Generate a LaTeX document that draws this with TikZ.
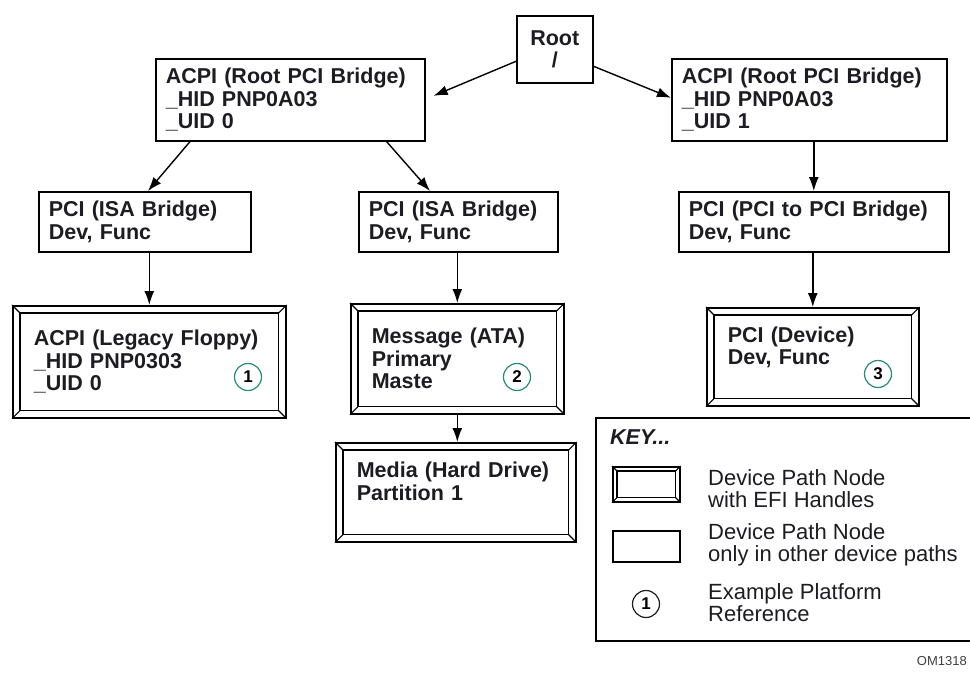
\documentclass[tikz,border=0pt]{standalone}
\usepackage{fontspec}
\setmainfont{Liberation Sans}
\usetikzlibrary{arrows.meta}
\definecolor{RefGreen}{RGB}{38,140,110}
\definecolor{InkBlack}{RGB}{28,28,34}
\newcommand{\boxfont}{\fontsize{21.5}{22.5}\selectfont\bfseries}
\newcommand{\keyfont}{\fontsize{22}{22}\selectfont}

\begin{document}
\begin{tikzpicture}[x=1pt,y=-1pt,>={Latex[length=14pt,width=10pt]},
  devbox/.style={draw,line width=1.6pt,anchor=north west,align=left,font=\boxfont,
    text=InkBlack,inner ysep=0pt,inner xsep=10pt,text width=#1},
  efibox/.style={devbox=#1,inner xsep=21pt},
  refnum/.style={circle,draw=RefGreen,line width=1.2pt,minimum size=27pt,inner sep=0pt,
    font=\fontsize{17}{17}\selectfont\bfseries},
  link/.style={->,line width=1.4pt},
  keytext/.style={anchor=west,align=left,font=\keyfont,text=InkBlack,inner sep=0pt}]
  \useasboundingbox (0,0) rectangle (970,673);
  \clip (0,0) rectangle (970,673);

  % top row
  \node[draw,line width=1.6pt,anchor=north west,minimum width=76pt,minimum height=67pt,
    align=center,font=\boxfont,text=InkBlack] (root) at (516,15) {Root\\/};
  \node[devbox=249pt,minimum height=82pt] (acpiA) at (155,58)
    {ACPI (Root PCI Bridge)\\\_HID PNP0A03\\\_UID 0};
  \node[devbox=255pt,minimum height=82pt] (acpiB) at (671,58)
    {ACPI (Root PCI Bridge)\\\_HID PNP0A03\\\_UID 1};

  % bridges
  \node[devbox=192pt,minimum height=60pt] (pciA) at (38,191) {PCI (ISA Bridge)\\Dev, Func};
  \node[devbox=179pt,minimum height=60pt] (pciB) at (358,191) {PCI (ISA Bridge)\\Dev, Func};
  \node[devbox=250pt,minimum height=60pt] (pciC) at (678,191) {PCI (PCI to PCI Bridge)\\Dev, Func};

  % nodes with EFI handles
  \node[efibox=231pt,minimum height=112pt] (floppy) at (12,305)
    {ACPI (Legacy Floppy)\\\_HID PNP0303\\\_UID 0};
  \node[efibox=171pt,minimum height=110pt] (ata) at (350,303)
    {Message (ATA)\\Primary\\Maste};
  \node[efibox=198pt,minimum height=99pt] (media) at (335,442)
    {Media (Hard Drive)\\Partition 1\\\mbox{}};
  \node[efibox=170pt,minimum height=98pt] (device) at (706,307)
    {PCI (Device)\\Dev, Func\\\mbox{}};
  \node[refnum] (ref1) at (248,377) {1};
  \node[refnum] (ref2) at (517,377) {2};
  \node[refnum] (ref3) at (878,374) {3};

  % key
  \node[draw,line width=1.6pt,anchor=north west,minimum width=390pt,minimum height=223pt,
    inner sep=0pt] (key) at (595,417) {};
  \node[anchor=west,inner sep=0pt,text=InkBlack,
    font=\fontsize{21.5}{22}\selectfont\bfseries\itshape] (keytitle) at (610,437) {KEY...};
  \node[draw,line width=1.6pt,anchor=north west,minimum width=67pt,minimum height=35pt,
    inner sep=0pt] (keyH) at (612,466) {};
  \node[draw,line width=1.6pt,anchor=north west,minimum width=67pt,minimum height=31pt,
    inner sep=0pt] (keyP) at (612,530) {};
  \node[refnum,draw=InkBlack] (keyref) at (646,604) {1};
  \node[keytext] (keyHtxt) at (708,489) {Device Path Node\\with EFI Handles};
  \node[keytext] (keyPtxt) at (708,545) {Device Path Node\\only in other device paths};
  \node[keytext] (keyRtxt) at (708,603) {Example Platform\\Reference};
  \node[anchor=east,inner sep=0pt,text=black!75,font=\fontsize{13}{13}\selectfont]
    (omref) at (967,661) {OM1318};

  % bevelled frames
  \foreach \n/\d in {floppy/8pt,ata/8pt,media/8pt,device/8pt,keyH/5pt}{
    \draw[line width=1.1pt] ([shift={(\d,-\d)}]\n.north west) rectangle ([shift={(-\d,\d)}]\n.south east);
    \draw[line width=1.1pt] (\n.north west) -- ++(\d,-\d) (\n.north east) -- ++(-\d,-\d)
      (\n.south west) -- ++(\d,\d) (\n.south east) -- ++(-\d,\d);
  }

  % connectors
  \draw[link] ([yshift=-12pt]root.west) -- ([xshift=8pt,yshift=4pt]acpiA.east);
  \draw[link] ([yshift=-17pt]root.east) -- ([yshift=2pt]acpiB.west);
  \draw[link] ([xshift=35pt]acpiA.south west) -- ([xshift=110pt]pciA.north west);
  \draw[link] ([xshift=-39pt]acpiA.south east) -- ([xshift=72pt]pciB.north west);
  \draw[link] (acpiB.south -| pciC.north) -- (pciC.north);
  \draw[link] (pciA.south -| floppy.north) -- (floppy.north);
  \draw[link] (pciB.south -| ata.north) -- (ata.north);
  \draw[link] (pciC.south -| device.north) -- (device.north);
  \draw[link] (ata.south) -- (ata.south |- media.north);
\end{tikzpicture}
\end{document}
